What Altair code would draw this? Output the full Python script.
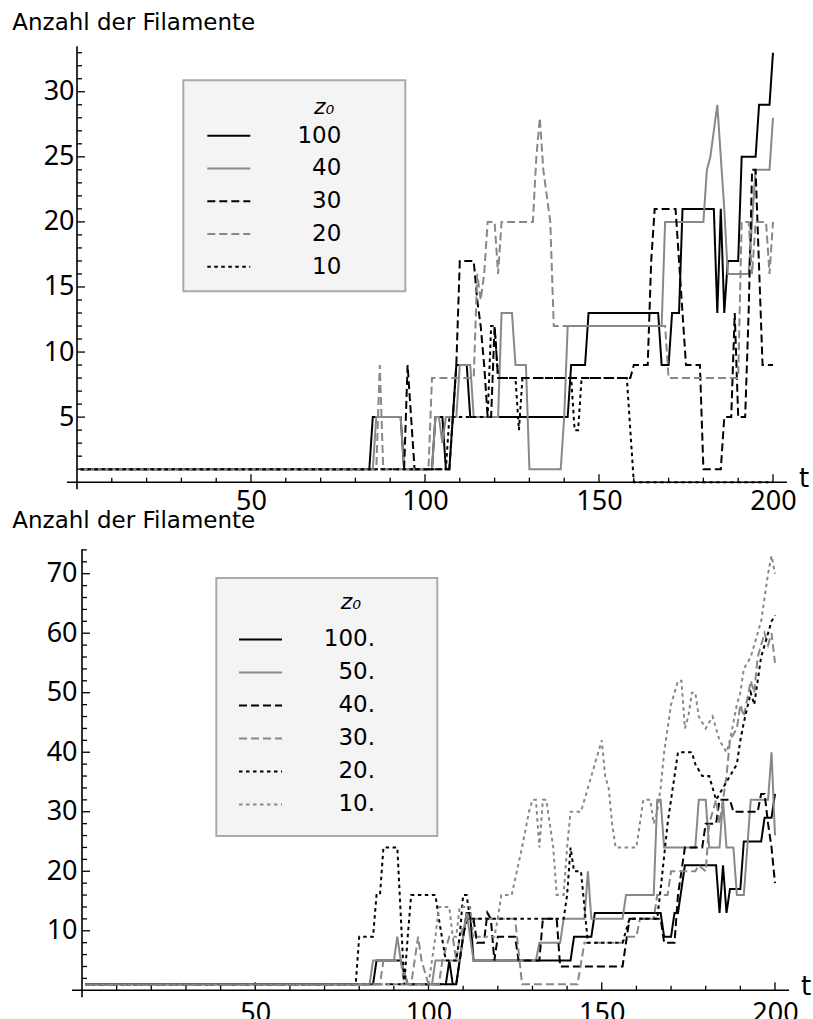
import altair as alt
import pandas as pd

# ---------------- top panel: z0 = 100, 40, 30, 20, 10 ----------------
top_names = ["100", "40", "30", "20", "10"]

A_t = [1, 84, 85, 93, 94, 102, 103, 105, 106, 107, 108, 109, 112, 113, 141, 142, 146, 147, 167, 168,
       170, 171, 173, 174, 183, 184, 185, 186, 187, 190, 191, 195, 196, 199, 200]
A_v = [1, 1, 5, 5, 1, 1, 5, 5, 1, 1, 5, 9, 9, 5, 5, 9, 9, 13, 13, 9,
       9, 13, 13, 21, 21, 13, 21, 13, 17, 17, 25, 25, 29, 29, 33]

B_t = [1, 85, 86, 93, 94, 102, 103, 104, 105, 106, 109, 110, 113, 114, 121, 122, 125, 126, 129, 130,
       139, 140, 141, 168, 169, 180, 181, 182, 184, 186, 187, 193, 195, 199, 200]
B_v = [1, 1, 5, 5, 1, 1, 5, 5, 3, 5, 5, 9, 9, 5, 5, 13, 13, 9, 9, 1,
       1, 5, 12, 12, 20, 20, 24, 25, 29, 21, 16, 16, 24, 24, 28]

C_t = [1, 94, 95, 96, 97, 107, 108, 109, 110, 114, 115, 116, 117, 118, 119, 120, 121, 159, 160, 164,
       165, 166, 172, 173, 174, 175, 179, 180, 185, 186, 188, 189, 190, 192, 193, 194, 195, 197, 200]
C_v = [1, 1, 9, 5, 1, 1, 5, 9, 17, 17, 14, 12, 9, 5, 5, 12, 8, 8, 9, 9,
       17, 21, 21, 17, 13, 9, 9, 1, 1, 5, 5, 13, 5, 5, 13, 24, 24, 9, 9]

D_t = [1, 86, 87, 88, 101, 102, 114, 115, 116, 117, 118, 120, 121, 122, 131, 132, 133, 134, 136, 137,
       169, 170, 190, 191, 193, 194, 195, 198, 199, 200]
D_v = [1, 1, 9, 1, 1, 8, 8, 16, 14, 16, 20, 20, 16, 20, 20, 25, 28, 24, 20, 12,
       12, 8, 8, 20, 20, 16, 20, 20, 16, 20]

E_t = [1, 106, 107, 118, 119, 120, 121, 126, 127, 128, 142, 143, 144, 145, 158, 160, 200]
E_v = [1, 1, 5, 5, 12, 12, 8, 8, 4, 8, 8, 4, 4, 8, 8, 0, 0]

# ---------------- bottom panel: z0 = 100, 50, 40, 30, 20, 10 ----------------
bot_names = ["100.", "50.", "40.", "30.", "20.", "10."]

F_t = [1, 84, 85, 92, 94, 105, 106, 107, 108, 109, 110, 111, 112, 113, 141, 142, 147, 148, 167, 168,
       170, 171, 172, 174, 183, 184, 185, 186, 187, 190, 191, 196, 197, 199, 200]
F_v = [1, 1, 5, 5, 1, 1, 5, 1, 1, 5, 9, 13, 13, 5, 5, 9, 9, 13, 13, 9,
       9, 13, 13, 21, 21, 13, 21, 13, 17, 17, 25, 25, 29, 29, 33]

G_t = [1, 83, 84, 90, 91, 92, 94, 101, 102, 109, 110, 111, 112, 113, 131, 132, 138, 139, 145, 146,
       147, 156, 157, 165, 166, 167, 168, 177, 178, 180, 181, 184, 185, 186, 188, 189, 191, 193, 198, 199,
       200]
G_v = [1, 1, 5, 5, 9, 5, 1, 1, 5, 5, 9, 13, 9, 5, 5, 8, 8, 12, 12, 20,
       12, 12, 16, 16, 32, 32, 24, 24, 32, 32, 24, 24, 32, 24, 24, 16, 16, 32, 32, 40,
       26]

H_t = [1, 108, 110, 111, 113, 114, 116, 117, 118, 119, 120, 125, 126, 132, 133, 137, 138, 156, 157, 158,
       167, 168, 171, 172, 174, 179, 180, 183, 184, 187, 188, 195, 196, 197, 198, 199, 200]
H_v = [1, 1, 9, 12, 12, 8, 8, 13, 12, 5, 9, 9, 5, 5, 12, 12, 4, 4, 8, 12,
       12, 8, 8, 16, 24, 24, 28, 28, 32, 32, 30, 30, 33, 33, 28, 24, 18]

I_t = [1, 86, 87, 92, 93, 95, 96, 97, 98, 100, 103, 104, 106, 107, 108, 109, 111, 125, 127, 143,
       145, 156, 157, 160, 161, 165, 166, 169, 170, 177, 178, 180, 181, 183, 184, 186, 187, 189, 190, 191,
       193, 194, 195, 197, 198, 199, 200]
I_v = [1, 1, 5, 5, 1, 1, 5, 9, 5, 1, 1, 5, 9, 9, 5, 9, 12, 12, 1, 1,
       8, 8, 9, 9, 12, 12, 16, 16, 20, 20, 21, 20, 28, 32, 28, 36, 42, 44, 48, 46,
       52, 50, 56, 60, 58, 60, 55]

J_t = [1, 79, 80, 84, 85, 86, 87, 91, 93, 94, 95, 102, 103, 105, 108, 109, 110, 111, 112, 139,
       140, 141, 142, 144, 146, 156, 158, 166, 167, 169, 171, 172, 176, 177, 179, 181, 183, 185, 187, 189,
       190, 191, 193, 194, 196, 198, 199, 200]
J_v = [1, 1, 9, 9, 16, 16, 24, 24, 1, 9, 16, 16, 12, 5, 5, 9, 16, 16, 12, 12,
       16, 24, 20, 20, 8, 8, 12, 12, 17, 28, 36, 40, 40, 38, 36, 36, 32, 34, 36, 38,
       42, 45, 50, 48, 56, 60, 62, 63]

K_t = [1, 100, 101, 102, 103, 106, 107, 108, 109, 112, 113, 119, 120, 121, 124, 127, 129, 130, 131, 132,
       133, 134, 136, 137, 139, 140, 141, 144, 146, 148, 150, 151, 152, 153, 154, 160, 161, 162, 164, 165,
       166, 167, 168, 169, 170, 172, 173, 174, 175, 176, 177, 178, 180, 182, 184, 186, 187, 189, 190, 191,
       193, 194, 195, 196, 197, 198, 199, 200]
K_v = [1, 1, 5, 9, 14, 14, 9, 9, 14, 14, 9, 9, 12, 16, 16, 24, 30, 32, 32, 24,
       32, 32, 24, 16, 16, 24, 30, 30, 34, 38, 42, 36, 34, 28, 24, 24, 28, 32, 32, 28,
       30, 34, 40, 44, 48, 52, 52, 44, 46, 50, 50, 46, 44, 46, 42, 40, 42, 48, 50, 54,
       56, 58, 60, 62, 66, 70, 73, 70]

# ---------------- axes ----------------
x_major = [50, 100, 150, 200]
x_minor = [10, 20, 30, 40, 60, 70, 80, 90, 110, 120, 130, 140, 160, 170, 180, 190]
top_y_major = [5, 10, 15, 20, 25, 30]
top_y_minor = [1, 2, 3, 4, 6, 7, 8, 9, 11, 12, 13, 14, 16, 17, 18, 19, 21, 22, 23, 24,
               26, 27, 28, 29, 31, 32, 33]
bot_y_major = [10, 20, 30, 40, 50, 60, 70]
bot_y_minor = [2, 4, 6, 8, 12, 14, 16, 18, 22, 24, 26, 28, 32, 34, 36, 38, 42, 44, 46, 48,
               52, 54, 56, 58, 62, 64, 66, 68, 72, 74]

TITLE = "Anzahl der Filamente"
NB = "\u00a0"
ZW = "\u200b"
GRAY = "#888888"
FONT = "DejaVu Sans"
TICK_FONT = "Noto Sans"

SOLID = [1, 0]
DASH = [8, 4]
DOT = [3.5, 3.5]


def series_df(series):
    rows = []
    for name, ts, vs in series:
        for i, (t, v) in enumerate(zip(ts, vs)):
            rows.append({"t": t, "v": v, "z": name, "i": i})
    return pd.DataFrame(rows)


def make_legend(x, y, title, label_offset, title_pad, row_pad):
    return alt.Legend(
        orient="none", legendX=x, legendY=y,
        title=title, titleFont=FONT, titleFontSize=22, titleFontStyle="italic",
        titleFontWeight="normal", titleColor="black", titleAnchor="end",
        titlePadding=title_pad,
        labelFont=FONT, labelFontSize=23, labelColor="black", labelOffset=label_offset,
        labelAlign="right", labelLimit=400,
        symbolType="stroke", symbolSize=1849, symbolStrokeWidth=2, symbolOffset=0,
        clipHeight=20, rowPadding=row_pad, padding=0,
    )


def panel(series, names, colors, dashes, W, H, ymax, y_major, y_minor, sx,
          title_dx, title_offset, xlab_pad, ylab_pad, legend, box):
    # sx: horizontal shift (px) of the data origin relative to the plot group origin
    xs = alt.Scale(domain=[0, 200], range=[sx, W + sx], nice=False, zero=False)
    ys = alt.Scale(domain=[0, ymax], nice=False, zero=False)
    xaxis = alt.Axis(values=x_major, title=None, ticks=False, domain=False, grid=False,
                     labelFont=TICK_FONT, labelFontSize=27, labelPadding=xlab_pad,
                     labelColor="black", labelFlush=False, labelOverlap=False)
    yaxis = alt.Axis(values=y_major, title=None, ticks=False, domain=False, grid=False,
                     labelFont=TICK_FONT, labelFontSize=27, labelPadding=ylab_pad,
                     labelColor="black", labelFlush=False, labelOverlap=False, offset=-sx)
    X = alt.X("t:Q", scale=xs, axis=xaxis)
    Y = alt.Y("v:Q", scale=ys, axis=yaxis)
    one = alt.Data(values=[{"a": 1}])

    xline = alt.Chart(one).mark_rule(color="black", strokeWidth=1.6).encode(
        x=alt.value(sx - 10), x2=alt.value(W + sx + 14), y=alt.value(H))
    yline = alt.Chart(one).mark_rule(color="black", strokeWidth=1.6).encode(
        x=alt.value(sx), y=alt.value(0), y2=alt.value(H + 7))
    xt_major = alt.Chart(pd.DataFrame({"t": x_major})).mark_rule(color="black", strokeWidth=1.3).encode(
        x=X, y=alt.value(H), y2=alt.value(H - 8))
    xt_minor = alt.Chart(pd.DataFrame({"t": x_minor})).mark_rule(color="black", strokeWidth=1.3).encode(
        x=X, y=alt.value(H), y2=alt.value(H - 4.5))
    yt_major = alt.Chart(pd.DataFrame({"v": y_major})).mark_rule(color="black", strokeWidth=1.3).encode(
        y=Y, x=alt.value(sx), x2=alt.value(sx + 8))
    yt_minor = alt.Chart(pd.DataFrame({"v": y_minor})).mark_rule(color="black", strokeWidth=1.3).encode(
        y=Y, x=alt.value(sx), x2=alt.value(sx + 5))

    lines = alt.Chart(series_df(series)).mark_line(strokeWidth=2).encode(
        x=X, y=Y,
        color=alt.Color("z:N", scale=alt.Scale(domain=names, range=colors), legend=legend),
        strokeDash=alt.StrokeDash("z:N", scale=alt.Scale(domain=names, range=dashes), legend=legend),
        order="i:Q",
    )
    bx0, bx1, by0, by1 = box
    legend_box = alt.Chart(one).mark_rect(fill="#f4f4f4", stroke="#aaaaaa", strokeWidth=2).encode(
        x=alt.value(bx0 + sx), x2=alt.value(bx1 + sx), y=alt.value(by0), y2=alt.value(by1))
    tlabel = alt.Chart(one).mark_text(text="t", font=FONT, fontSize=26, align="center",
                                      baseline="middle", color="black").encode(
        x=alt.value(W + sx + 31), y=alt.value(H - 3))

    return alt.layer(xline, yline, xt_minor, xt_major, yt_minor, yt_major, lines, legend_box,
                     tlabel).properties(
        width=W, height=H,
        title=alt.TitleParams(TITLE, anchor="start", align="left", baseline="alphabetic",
                              frame="group", dx=title_dx + sx, offset=title_offset, font=FONT,
                              fontSize=23, fontWeight="normal", color="black"),
    )


top_series = [("100", A_t, A_v), ("40", B_t, B_v), ("30", C_t, C_v), ("20", D_t, D_v), ("10", E_t, E_v)]
bot_series = [("100.", F_t, F_v), ("50.", G_t, G_v), ("40.", H_t, H_v), ("30.", I_t, I_v),
              ("20.", J_t, J_v), ("10.", K_t, K_v)]

top = panel(top_series, top_names, ["black", GRAY, "black", GRAY, "black"],
            [SOLID, SOLID, DASH, DASH, DOT], W=696, H=436, ymax=33.5,
            y_major=top_y_major, y_minor=top_y_minor, sx=-5,
            title_dx=-64.7, title_offset=-7.8, xlab_pad=6, ylab_pad=3,
            legend=make_legend(129.3 - 5, 51, "z\u2080" + NB + ZW, 90, 6.5, 9.75),
            box=(106.3, 328.3, 34, 245))

bottom = panel(bot_series, bot_names, ["black", GRAY, "black", GRAY, "black", GRAY],
               [SOLID, SOLID, DASH, DASH, DOT, DOT], W=693, H=441, ymax=74.1,
               y_major=bot_y_major, y_minor=bot_y_minor, sx=0,
               title_dx=-69.7, title_offset=-2.3, xlab_pad=10, ylab_pad=5,
               legend=make_legend(156, 43.1, "z\u2080" + NB + NB + ZW, 92, 15.1, 10),
               box=(134.3, 355.3, 28.7, 286.7))

chart = (
    alt.concat(top, bottom, columns=1, spacing=-4.9, align="none")
    .resolve_scale(color="independent", strokeDash="independent")
    .resolve_legend(color="independent", strokeDash="independent")
    .properties(padding={"left": 12, "top": 12.2, "right": 0, "bottom": 0}, background="white")
    .configure_view(stroke=None)
)

chart.save("out.html", embed_options={"renderer": "svg", "actions": False})
